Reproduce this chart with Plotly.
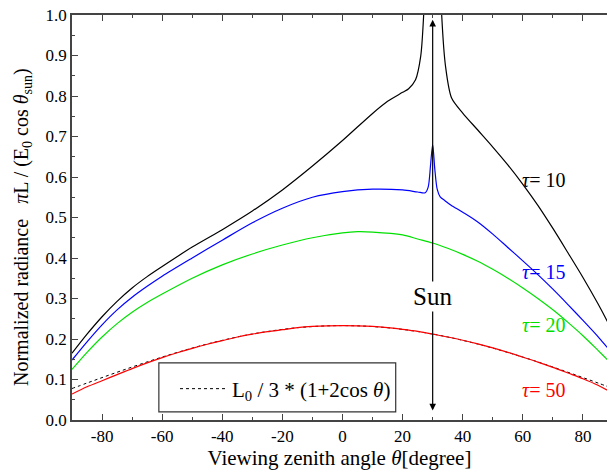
import plotly.graph_objects as go

# ---------------- data ----------------
theta_t10 = [-90, -85, -80, -75, -70, -65, -60, -50, -40, -30, -20, -10, 0, 10, 15, 20, 22, 24.3, 26, 27,
             28, 29, 30, 31, 32, 33, 34.3, 36.3, 40, 45, 50, 55, 60, 65, 70, 75, 80, 85, 88, 90]
rad_t10 = [0.165, 0.212, 0.255, 0.293, 0.326, 0.354, 0.379, 0.427, 0.47, 0.516, 0.568, 0.627, 0.69, 0.757,
           0.787, 0.809, 0.818, 0.84, 0.897, 1.0, 1.25, 1.8, 2.5, 1.8, 1.25, 1.0, 0.872, 0.795, 0.758, 0.716,
           0.674, 0.63, 0.582, 0.53, 0.473, 0.413, 0.352, 0.287, 0.245, 0.215]

theta_t15 = [-90, -85, -80, -75, -70, -65, -60, -50, -40, -30, -20, -10, 0, 10, 20, 25, 27.5, 28.5,
             29.3, 30, 30.7, 31.5, 32.5, 34, 36, 40, 45, 50, 55, 60, 65, 70, 75, 80, 85, 88, 90]
rad_t15 = [0.148, 0.193, 0.235, 0.272, 0.303, 0.33, 0.355, 0.4, 0.444, 0.487, 0.523, 0.55, 0.564,
           0.57, 0.568, 0.563, 0.561, 0.575, 0.63, 0.68, 0.62, 0.57, 0.551, 0.542, 0.531, 0.513, 0.489, 0.459,
           0.426, 0.393, 0.359, 0.323, 0.285, 0.246, 0.206, 0.18, 0.163]

theta_t20 = [-90, -85, -80, -75, -70, -65, -60, -50, -40, -30, -20, -10, 0, 5, 10, 20, 25, 30, 35, 40, 45,
             50, 55, 60, 65, 70, 75, 80, 85, 88, 90]
rad_t20 = [0.125, 0.167, 0.205, 0.238, 0.266, 0.29, 0.311, 0.35, 0.383, 0.41, 0.432, 0.45, 0.462, 0.465,
           0.464, 0.457, 0.447, 0.437, 0.424, 0.409, 0.392, 0.372, 0.35, 0.326, 0.3, 0.272, 0.241, 0.208,
           0.172, 0.15, 0.135]

theta_t50 = [-90, -85, -80, -75, -70, -65, -60, -55, -50, -45, -40, -35, -30, -25, -20, -15, -10, -5, 0, 5,
             10, 15, 20, 25, 30, 35, 40, 45, 50, 55, 60, 65, 70, 75, 80, 85, 88, 90]
rad_t50 = [0.064, 0.082, 0.097, 0.112, 0.127, 0.141, 0.154, 0.166, 0.177, 0.187, 0.196, 0.205, 0.212, 0.218,
           0.223, 0.228, 0.231, 0.2325, 0.233, 0.2325, 0.231, 0.228, 0.224, 0.219, 0.212, 0.205, 0.197, 0.188,
           0.178, 0.167, 0.155, 0.143, 0.13, 0.116, 0.102, 0.086, 0.074, 0.068]

theta_approx = [-90, -85, -80, -75, -70, -65, -60, -55, -50, -45, -40, -35, -30, -25, -20, -15, -10, -5, 0,
                5, 10, 15, 20, 25, 30, 35, 40, 45, 50, 55, 60, 65, 70, 75, 80, 85, 90]
rad_approx = [0.0777, 0.0913, 0.1047, 0.1179, 0.1308, 0.1434, 0.1554, 0.1668, 0.1776, 0.1876, 0.1967,
              0.2050, 0.2123, 0.2185, 0.2237, 0.2278, 0.2307, 0.2325, 0.2331, 0.2325, 0.2307, 0.2278, 0.2237,
              0.2185, 0.2123, 0.2050, 0.1967, 0.1876, 0.1776, 0.1668, 0.1554, 0.1434, 0.1308, 0.1179, 0.1047,
              0.0913, 0.0777]

tau_labels = ["<i>τ</i>= 10", "<i>τ</i>= 15", "<i>τ</i>= 20", "<i>τ</i>= 50"]
tau_label_y = [0.593, 0.365, 0.235, 0.074]
tau_colors = ["#000000", "#0000ff", "#00e000", "#ff0000"]

sun_theta = 30
x_ticks = [-80, -60, -40, -20, 0, 20, 40, 60, 80]
x_ticktext = ["-80", "-60", "-40", "-20", "0", "20", "40", "60", "80"]
y_ticks = [0.0, 0.1, 0.2, 0.3, 0.4, 0.5, 0.6, 0.7, 0.8, 0.9, 1.0]
y_ticktext = ["0.0", "0.1", "0.2", "0.3", "0.4", "0.5", "0.6", "0.7", "0.8", "0.9", "1.0"]
y_title = ("Normalized radiance" + "\u00a0" * 3 +
           "<i>π</i>L / (E<sub>0</sub> cos <i>θ</i><sub>sun</sub>)")

FONT = "Liberation Serif"

fig = go.Figure()
fig.add_trace(go.Scatter(x=theta_approx, y=rad_approx, mode="lines",
                         line=dict(color="black", width=1, dash="dot", shape="spline"),
                         name="L<sub>0</sub> / 3 * (1+2cos <i>θ</i>)", showlegend=True))
for th, r, c in [(theta_t10, rad_t10, tau_colors[0]), (theta_t15, rad_t15, tau_colors[1]),
                 (theta_t20, rad_t20, tau_colors[2]), (theta_t50, rad_t50, tau_colors[3])]:
    fig.add_trace(go.Scatter(x=th, y=r, mode="lines",
                             line=dict(color=c, width=1.2, shape="spline", smoothing=0.8),
                             showlegend=False))

annotations = []
# Sun arrow (double headed)
annotations.append(dict(x=sun_theta, y=0.988, ax=sun_theta, ay=0.02, axref="x", ayref="y",
                        xref="x", yref="y", text="", showarrow=True, arrowhead=2, startarrowhead=2,
                        arrowside="end+start", arrowwidth=1.2, arrowsize=1.1, arrowcolor="black",
                        standoff=0, startstandoff=0))
annotations.append(dict(x=sun_theta, y=0.306, xref="x", yref="y", text="Sun", showarrow=False,
                        bgcolor="white", font=dict(family=FONT, size=25, color="black")))
for t, yv, c in zip(tau_labels, tau_label_y, tau_colors):
    annotations.append(dict(x=59, y=yv, xref="x", yref="y", text=t, showarrow=False, xanchor="left",
                            font=dict(family=FONT, size=20, color=c)))
# y-axis title (as a rotated annotation for exact placement)
annotations.append(dict(x=(22 - 72) / 535, y=(420 - 227) / 405, xref="paper", yref="paper",
                        text=y_title, textangle=-90, showarrow=False, xanchor="center", yanchor="middle",
                        font=dict(family=FONT, size=20, color="black")))

fig.update_layout(
    width=607, height=472,
    margin=dict(l=72, r=0, t=15, b=52, autoexpand=False),
    paper_bgcolor="white", plot_bgcolor="white",
    font=dict(family=FONT, color="black"),
    annotations=annotations,
    shapes=[dict(type="rect", xref="x", yref="y", x0=-61.1, x1=17.7, y0=0.02, y1=0.141,
                 line=dict(color="#333333", width=1.2), fillcolor="rgba(0,0,0,0)")],
    legend=dict(x=(175 - 72) / 535, y=(420 - 389) / 405, xanchor="left", yanchor="middle",
                itemwidth=47,
                bgcolor="rgba(0,0,0,0)", borderwidth=0, font=dict(family=FONT, size=21, color="black")),
    xaxis=dict(range=[-90, 88], tickvals=x_ticks, ticktext=x_ticktext, ticks="inside", ticklen=6,
               tickwidth=1, tickcolor="#444",
               minor=dict(ticks="inside", ticklen=3, dtick=10, tick0=0, tickcolor="#444"),
               showline=True, linecolor="#444", linewidth=1.5, mirror="ticks", showgrid=False, zeroline=False,
               tickfont=dict(family=FONT, size=17, color="black"),
               title=dict(text="Viewing zenith angle <i>θ</i>[degree]", standoff=4,
                          font=dict(family=FONT, size=21, color="black"))),
    yaxis=dict(range=[0, 1.0], tickvals=y_ticks, ticktext=y_ticktext, ticks="inside", ticklen=6,
               tickwidth=1, tickcolor="#444",
               minor=dict(ticks="inside", ticklen=3, dtick=0.05, tick0=0, tickcolor="#444"),
               showline=True, linecolor="#444", linewidth=1.5, mirror=False, showgrid=False, zeroline=False,
               tickfont=dict(family=FONT, size=17, color="black")),
)

fig.write_html("out.html", config={"displayModeBar": False},
               post_script="document.body.style.margin='0';document.body.style.overflow='hidden';")
